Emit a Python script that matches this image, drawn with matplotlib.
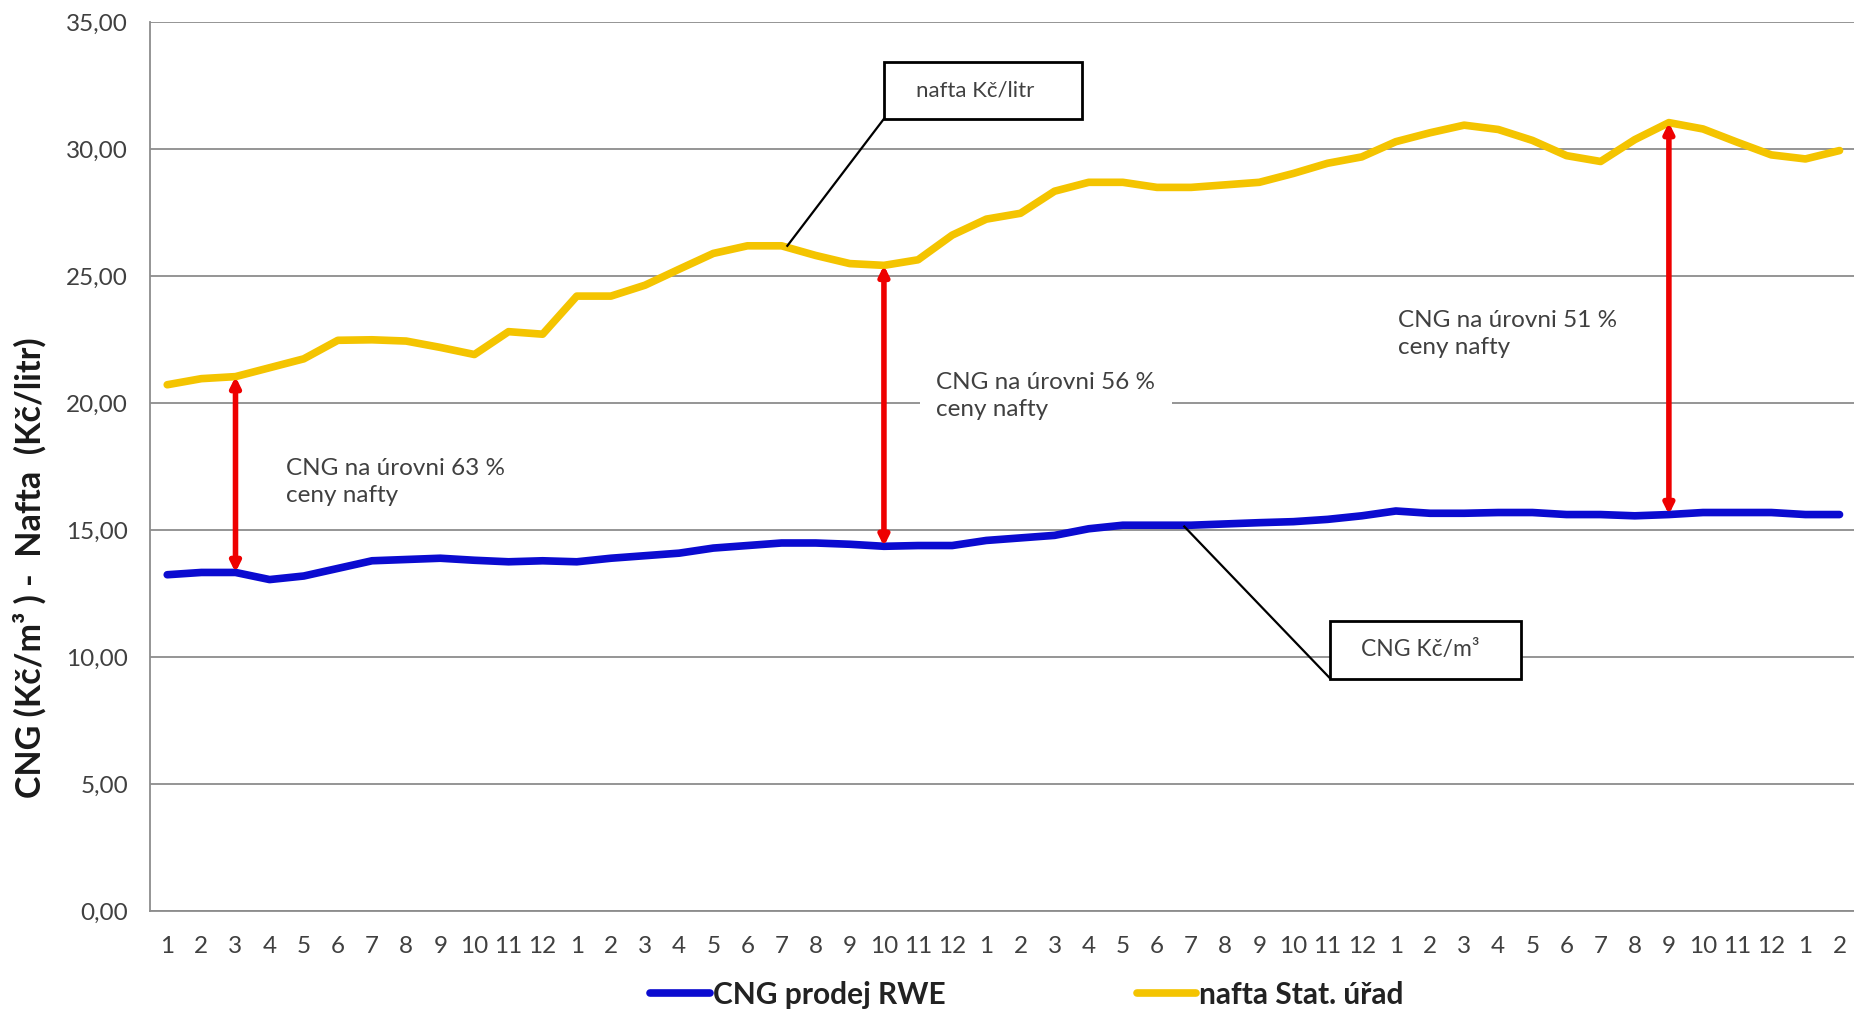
import numpy as np
import matplotlib.pyplot as plt
from matplotlib.patches import Rectangle

plt.rcParams['font.family'] = ['Lato', 'DejaVu Sans']

# mesice (4 roky + 2 mesice)
months = ["1", "2", "3", "4", "5", "6", "7", "8", "9", "10", "11", "12",
          "1", "2", "3", "4", "5", "6", "7", "8", "9", "10", "11", "12",
          "1", "2", "3", "4", "5", "6", "7", "8", "9", "10", "11", "12",
          "1", "2", "3", "4", "5", "6", "7", "8", "9", "10", "11", "12",
          "1", "2"]

# CNG Kc/m3
cng = [13.25, 13.34, 13.34, 13.06, 13.20, 13.50, 13.80, 13.85, 13.90, 13.82,
       13.76, 13.80, 13.76, 13.90, 14.00, 14.10, 14.30, 14.40, 14.50, 14.50,
       14.45, 14.37, 14.40, 14.40, 14.60, 14.70, 14.80, 15.06, 15.20, 15.20,
       15.20, 15.25, 15.30, 15.34, 15.43, 15.57, 15.76, 15.67, 15.67, 15.70,
       15.70, 15.62, 15.62, 15.57, 15.62, 15.70, 15.70, 15.70, 15.62, 15.62]

# nafta Kc/litr
nafta = [20.73, 20.97, 21.05, 21.40, 21.75, 22.48, 22.50, 22.45, 22.20, 21.92,
         22.82, 22.72, 24.22, 24.22, 24.65, 25.28, 25.90, 26.20, 26.20, 25.82,
         25.50, 25.43, 25.65, 26.62, 27.25, 27.48, 28.35, 28.70, 28.70, 28.50,
         28.50, 28.60, 28.70, 29.05, 29.45, 29.70, 30.30, 30.65, 30.95, 30.78,
         30.35, 29.75, 29.52, 30.38, 31.05, 30.80, 30.28, 29.78, 29.62, 29.95]

# pomer CNG / nafta
gap_idx = [3, 22, 45]
gap_text = ["CNG na úrovni 63 %\nceny nafty",
            "CNG na úrovni 56 %\nceny nafty",
            "CNG na úrovni 51 %\nceny nafty"]

x = np.arange(1, len(cng) + 1)

fig = plt.figure(figsize=(18.54, 10.13), dpi=100)
ax = fig.add_axes([0.081, 0.1004, 0.9204, 0.8776])

ax.plot(x, cng, color='#0b0bd0', lw=5.5, solid_joinstyle='round',
        solid_capstyle='round', label='CNG prodej RWE', zorder=3)
ax.plot(x, nafta, color='#f4c400', lw=5.5, solid_joinstyle='round',
        solid_capstyle='round', label='nafta Stat. úřad', zorder=3)

ax.set_xlim(0.5, len(cng) + 0.5)
ax.set_ylim(0, 35)
ax.set_yticks(np.arange(0, 36, 5))
ax.set_yticklabels([f"{v:.2f}".replace('.', ',') for v in np.arange(0, 36, 5)])
ax.set_xticks(x)
ax.set_xticklabels(months)
ax.tick_params(axis='y', length=0, pad=16, labelsize=17.5, labelcolor='#404040')
ax.tick_params(axis='x', length=0, pad=18, labelsize=17.5, labelcolor='#404040')

ax.yaxis.grid(True, color='#8c8c8c', lw=1.3)
ax.set_axisbelow(True)
for s in ['top', 'right']:
    ax.spines[s].set_visible(False)
ax.spines['left'].set_color('#8c8c8c')
ax.spines['left'].set_linewidth(1.3)
ax.spines['bottom'].set_color('#8c8c8c')
ax.spines['bottom'].set_linewidth(1.3)

ax.set_ylabel("CNG (Kč/m³ ) -  Nafta  (Kč/litr)", fontsize=24.5,
              fontweight='bold', color='#1a1a1a')
ax.yaxis.set_label_coords(-0.061, 0.387)

# cervene sipky mezi cenami
for i in gap_idx:
    ax.annotate('', xy=(i, nafta[i - 1]), xytext=(i, cng[i - 1]),
                arrowprops=dict(arrowstyle='<|-|>', color='#ee0000', lw=4,
                                mutation_scale=14, shrinkA=0, shrinkB=0),
                zorder=4)

text_pos = [(4.47, 16.9), (23.54, 20.27), (37.06, 22.71)]
for (tx, ty), t in zip(text_pos, gap_text):
    ax.text(tx, ty, t, ha='left', va='center', fontsize=17.5, color='#404040',
            linespacing=1.35, zorder=2,
            bbox=dict(facecolor='white', edgecolor='none', pad=12))

# popisky s ramecky
ax.add_patch(Rectangle((22.0, 31.2), 5.8, 2.23, facecolor='white',
                       edgecolor='black', lw=2, zorder=5, clip_on=False))
ax.text(24.68, 32.31, "nafta Kč/litr", ha='center', va='center',
        fontsize=16, color='#404040', zorder=6)
ax.plot([19.17, 22.0], [26.2, 31.2], color='black', lw=1.6, zorder=4)

ax.add_patch(Rectangle((35.08, 9.16), 5.59, 2.28, facecolor='white',
                       edgecolor='black', lw=2, zorder=5, clip_on=False))
ax.text(37.72, 10.3, "CNG Kč/m³", ha='center', va='center',
        fontsize=16.5, color='#404040', zorder=6)
ax.plot([30.8, 35.08], [15.15, 9.16], color='black', lw=1.6, zorder=4)

fig.legend(loc='center', bbox_to_anchor=(0.554, 0.018), ncol=2, frameon=False,
           prop={'weight': 'bold', 'size': 21.5}, handlelength=2.0,
           handletextpad=0.1, columnspacing=6.4, labelcolor='#222222')

fig.savefig("out.png", dpi=100)
